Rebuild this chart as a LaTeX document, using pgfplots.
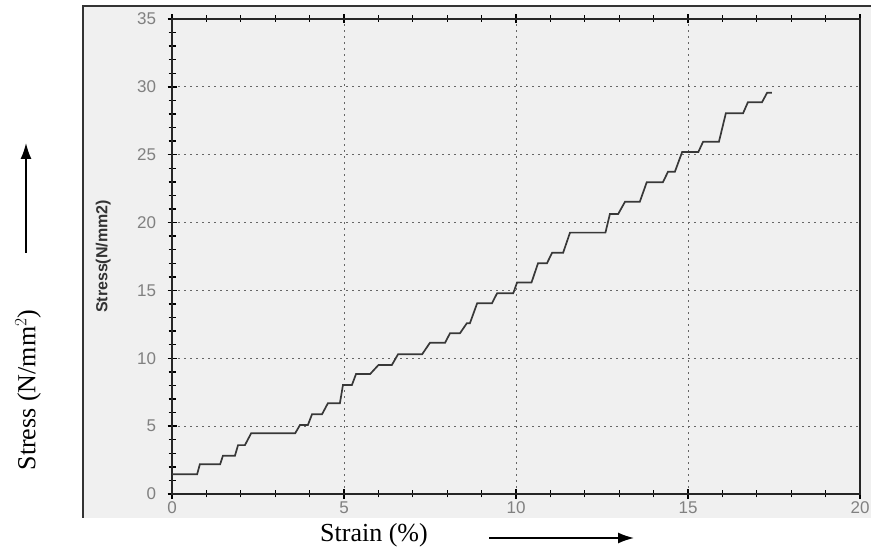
\documentclass[border=0pt]{standalone}
\usepackage{pgfplots}
\pgfplotsset{compat=1.18}
\usetikzlibrary{arrows.meta}
\usepackage{fontspec}
\setmainfont{Liberation Serif}
\newfontfamily\arial{Liberation Sans}

\begin{document}
\begin{tikzpicture}
\path[use as bounding box] (0pt,0pt) rectangle (871pt,552pt);
\fill[white] (0pt,0pt) rectangle (871pt,552pt);
% scanned panel
\fill[black!6] (83pt,34pt) rectangle (871pt,546pt);
\draw[black!80, line width=1.5pt] (83pt,34pt) -- (83pt,546pt) -- (871pt,546pt);

\begin{axis}[
    at={(172pt,58pt)}, anchor=south west,
    scale only axis, width=688pt, height=475pt,
    xmin=0, xmax=20, ymin=0, ymax=35,
    xtick={0,5,...,20}, ytick={0,5,...,35},
    minor x tick num=4, minor y tick num=4,
    xtick pos=both, ytick pos=left,
    grid=major,
    major grid style={dash pattern=on 1.5pt off 4.5pt, black!60, line width=1pt},
    tick style={black, line width=1.3pt},
    major tick length=9pt, minor tick length=7pt,
    tick align=center,
    axis line style={black!85, line width=1.6pt},
    ticklabel style={font=\arial\fontsize{17}{17}\selectfont, text=black!50},
    yticklabel style={xshift=-8pt},
    /pgf/number format/assume math mode=true,
    ylabel={Stress(N/mm2)},
    ylabel style={at={(axis description cs:-0.1,0.5)}, anchor=center,
        font=\arial\bfseries\fontsize{16}{16}\selectfont, text=black!80},
]
\addplot[black!78, line width=1.7pt] coordinates {
(0,1.45) (0.73,1.45) (0.81,2.19) (1.40,2.19) (1.48,2.82) (1.83,2.82)
(1.92,3.6) (2.12,3.6) (2.3,4.47) (3.58,4.47) (3.72,5.08) (3.95,5.08)
(4.07,5.87) (4.36,5.87) (4.53,6.68) (4.88,6.68) (4.97,8.03) (5.23,8.03)
(5.35,8.84) (5.76,8.84) (6.0,9.5) (6.39,9.5) (6.57,10.29) (7.27,10.29)
(7.5,11.15) (7.94,11.15) (8.08,11.84) (8.37,11.84) (8.57,12.58) (8.66,12.58)
(8.87,14.05) (9.3,14.05) (9.45,14.79) (9.92,14.79) (10.03,15.58) (10.45,15.58)
(10.64,17.0) (10.9,17.0) (11.05,17.78) (11.37,17.78) (11.57,19.26) (12.6,19.26)
(12.73,20.63) (12.97,20.63) (13.17,21.54) (13.6,21.54) (13.8,22.97) (14.27,22.97)
(14.42,23.75) (14.62,23.75) (14.83,25.2) (15.3,25.2) (15.44,25.96) (15.9,25.96)
(16.1,28.05) (16.6,28.05) (16.74,28.86) (17.15,28.86) (17.3,29.57) (17.44,29.57)
};
\end{axis}

% outer labels and arrows
\node[rotate=90, font=\fontsize{26}{26}\selectfont] at (28pt,162pt) {Stress (N/mm$^{2}$)};
\draw[line width=1.6pt, -{Latex[length=16pt,width=11pt]}] (26pt,299pt) -- (26pt,409pt);
\node[font=\fontsize{26}{26}\selectfont] at (374pt,17pt) {Strain (\%)};
\draw[line width=1.6pt, -{Latex[length=16pt,width=11pt]}] (489pt,14pt) -- (634pt,14pt);
\end{tikzpicture}
\end{document}
